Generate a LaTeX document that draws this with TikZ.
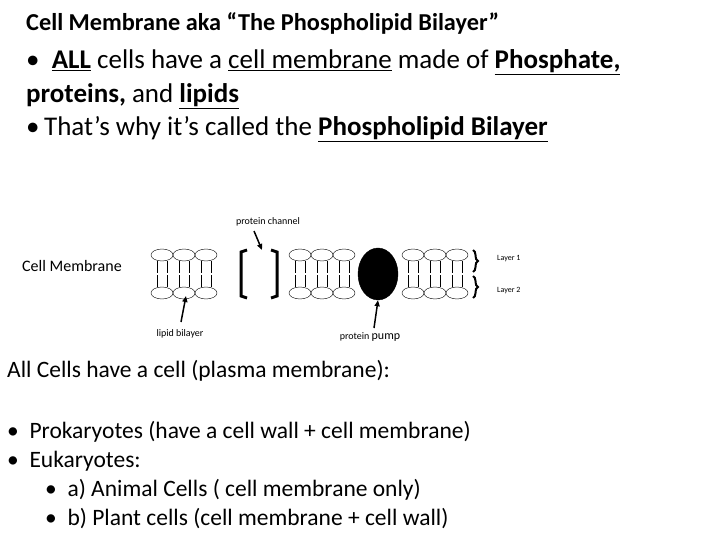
\documentclass[tikz,border=0pt]{standalone}
\usepackage{fontspec}
\setmainfont{Carlito}
\usetikzlibrary{decorations.pathreplacing,arrows.meta,shapes.geometric}
\begin{document}
\begin{tikzpicture}[x=1pt,y=-1pt,
  txt/.style={anchor=west,inner sep=0pt,align=left},
  head/.style={draw,ellipse,minimum width=22pt,minimum height=12pt,inner sep=0pt},
  small/.style={font=\fontsize{8}{9}\selectfont,inner sep=0pt},
  arr/.style={-{Triangle[length=6pt,width=5pt]},line width=1.5pt},
  brk/.style={line width=3pt}]
\useasboundingbox (0,0) rectangle (720,540);
\node[txt,font=\bfseries\fontsize{24.3}{28}\selectfont] (title) at (26,23) {Cell Membrane aka “The Phospholipid Bilayer”};
\node[txt,font=\fontsize{27}{33.5}\selectfont] (b1) at (26,96) {\textbullet\ \ \textbf{\underline{ALL}} cells have a \underline{cell membrane} made of \textbf{\underline{Phosphate,}}\\
\textbf{proteins,} and \textbf{\underline{lipids}}\\
\textbullet\,That’s why it’s called the \textbf{\underline{Phospholipid Bilayer}}};
\node[txt,font=\fontsize{16}{18}\selectfont] (cm) at (22,266) {Cell Membrane};
\foreach \x [count=\i] in {162,184,206,300,322,344,413,435,457}{
  \node[head] (t\i) at (\x,255) {};
  \node[head] (u\i) at (\x,293) {};
  \draw (t\i.south) ++(-5,0) -- ++(0,12) (t\i.south) ++(5,0) -- ++(0,12);
  \draw (u\i.north) ++(-5,0) -- ++(0,-12) (u\i.north) ++(5,0) -- ++(0,-12);
}
\draw[brk] (247,250) -- (241,252) -- (241,296) -- (247,298);
\draw[brk] (271,250) -- (277,252) -- (277,296) -- (271,298);
\node[draw,fill=black,ellipse,minimum width=40pt,minimum height=52pt] (pump) at (378,274) {};
\draw[line width=2pt,decorate,decoration={brace,amplitude=5pt}] (473,250) -- (473,272);
\draw[line width=2pt,decorate,decoration={brace,amplitude=5pt}] (473,276) -- (473,298);
\node[small,anchor=west] (L1) at (497,259) {Layer 1};
\node[small,anchor=west] (L2) at (497,291) {Layer 2};
\node[small,font=\fontsize{10}{11}\selectfont] (pc) at (268,222) {protein channel};
\node[small,font=\fontsize{10}{11}\selectfont] (lb) at (180,334) {lipid bilayer};
\node[small,font=\fontsize{10}{11}\selectfont] (pp) at (370,337) {protein {\fontsize{12}{13}\selectfont pump}};
\coordinate (pce) at (262,250);
\coordinate (lbe) at (186,296);
\draw[arr] (254,231) -- (pce);
\draw[arr] (181,322) -- (lbe);
\draw[arr] (374,328) -- (pump.south);
\node[txt,font=\fontsize{23.5}{28}\selectfont] (all) at (7,371) {All Cells have a cell (plasma membrane):};
\node[txt,font=\fontsize{23.5}{29}\selectfont] (list) at (7,475) {\textbullet\ \ Prokaryotes (have a cell wall + cell membrane)\\
\textbullet\ \ Eukaryotes:\\
\hspace{38pt}\textbullet\ \ a) Animal Cells ( cell membrane only)\\
\hspace{38pt}\textbullet\ \ b) Plant cells (cell membrane + cell wall)};
\end{tikzpicture}
\end{document}
